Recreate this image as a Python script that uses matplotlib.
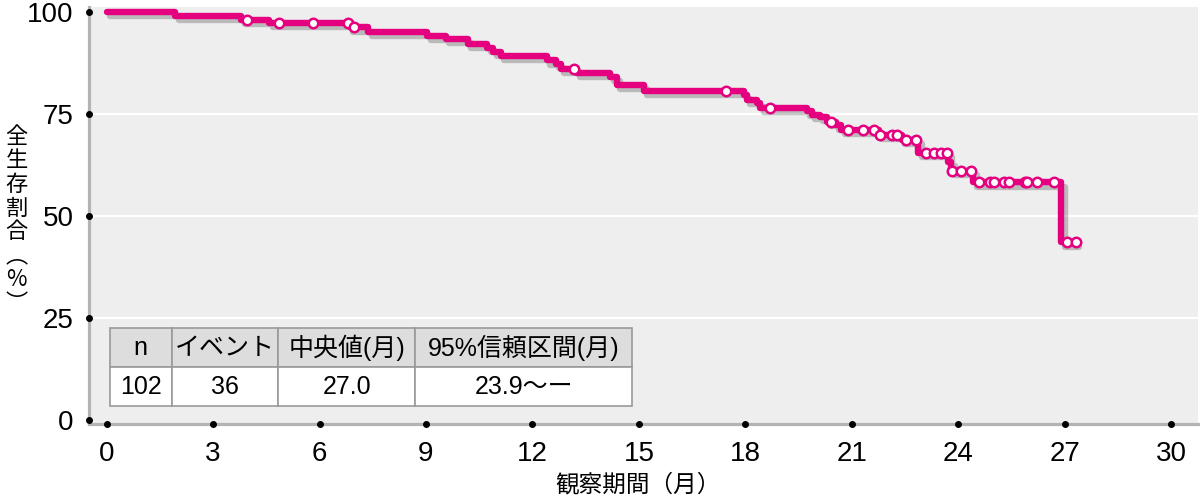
import numpy as np
import matplotlib
matplotlib.use('Agg')
import matplotlib.pyplot as plt
import matplotlib.patheffects as pe

# Kaplan-Meier steps (months, % alive after the step)
step_months = [0, 1.94, 3.79, 4.59, 6.85, 7.37, 9.03, 9.55, 10.17, 10.73,
               10.9, 11.1, 12.41, 12.65, 12.79, 13.25, 14.19, 14.38, 15.13, 17.95,
               18.04, 18.32, 18.42, 19.73, 19.87, 20.1, 20.3, 20.55, 20.7, 21.75,
               22.4, 22.87, 23.72, 23.8, 24.42, 26.9]
step_surv = [100, 99.0, 98.0, 97.3, 96.2, 95.1, 94.1, 93.3, 92.2, 91.1,
             90.2, 89.2, 88.1, 87.2, 86.0, 85.1, 84.0, 82.1, 80.7, 79.7,
             78.5, 77.6, 76.5, 75.6, 74.8, 74.2, 73.1, 72.2, 71.0, 69.8,
             68.7, 65.4, 63.2, 61.0, 58.2, 43.5]

# censored cases (months)
censor_months = [3.97, 4.85, 5.82, 6.79, 6.96, 13.16, 17.45, 18.7, 20.41, 20.89,
                 21.3, 21.63, 21.79, 22.14, 22.26, 22.52, 22.8, 23.08, 23.32, 23.51,
                 23.69, 23.83, 24.07, 24.35, 24.59, 24.89, 25.0, 25.28, 25.43, 25.87,
                 25.92, 26.22, 26.69, 27.06, 27.31]

x_ticks = [0, 3, 6, 9, 12, 15, 18, 21, 24, 27, 30]
y_ticks = [0, 25, 50, 75, 100]

table_head = ['n', 'イベント', '中央値(月)', '95%信頼区間(月)']
table_row = ['102', '36', '27.0', '23.9〜ー']

MAGENTA = '#e4007f'
LATIN = ['Liberation Sans Narrow', 'Liberation Sans', 'Noto Sans CJK JP']
JP = ['Noto Sans CJK JP', 'DejaVu Sans']

plt.rcParams['font.family'] = LATIN


def surv_at(t):
    i = np.searchsorted(step_months, t, side='right') - 1
    return step_surv[i]


fig = plt.figure(figsize=(12, 5), dpi=100)
ax = fig.add_axes([0.074, 0.152, 0.924, 0.834])
ax.set_facecolor('#eeeeee')

ax.set_xlim(-0.5, 30.74)
ax.set_ylim(-0.98, 101.2)

for y in y_ticks[1:-1]:
    ax.axhline(y, color='white', lw=1.6, zorder=1)

shadow = [pe.SimpleLineShadow(offset=(2.5, -3), shadow_color='#444444', alpha=0.3),
          pe.Normal()]

xs = step_months + [max(censor_months)]
ys = step_surv + [step_surv[-1]]
ax.step(xs, ys, where='post', color=MAGENTA, lw=4.6, solid_capstyle='round',
        path_effects=shadow, zorder=3)

cy = [surv_at(t) for t in censor_months]
ax.plot(censor_months, cy, 'o', ms=6.8, mfc='white', mec=MAGENTA, mew=1.8,
        ls='none', zorder=4)

for side in ['top', 'right']:
    ax.spines[side].set_visible(False)
for side in ['left', 'bottom']:
    ax.spines[side].set_color('#b3b3b3')
    ax.spines[side].set_linewidth(2.3)

ax.set_xticks(x_ticks)
ax.set_yticks(y_ticks)
ax.tick_params(length=0, labelsize=20)
ax.tick_params(axis='x', pad=12)
ax.tick_params(axis='y', pad=11)

# black dots sitting on the axis lines at each tick
ax.plot(x_ticks, [0] * len(x_ticks), 'o', color='black', ms=4,
        transform=ax.get_xaxis_transform(), clip_on=False, zorder=6)
ax.plot([0] * len(y_ticks), y_ticks, 'o', color='black', ms=4,
        transform=ax.get_yaxis_transform(), clip_on=False, zorder=6)

fig.text(0.532, 0.03, '観察期間（月）', family=JP, fontsize=17,
         ha='center', va='center')
fig.text(0.014, 0.56, '全\n生\n存\n割\n合\n︵\n%\n︶', family=JP, fontsize=16,
         ha='center', va='center', linespacing=1.04)

widths = [62.3, 106.6, 137.4, 216.6]
widths = [w / sum(widths) * 0.471 for w in widths]
tbl = ax.table(cellText=[table_row], colLabels=table_head, colWidths=widths,
               cellLoc='center', bbox=[0.0187, 0.043, 0.471, 0.187], zorder=7)
tbl.auto_set_font_size(False)
for (r, c), cell in tbl.get_celld().items():
    cell.set_edgecolor('#999999')
    cell.set_linewidth(1.2)
    cell.set_facecolor('#dddddd' if r == 0 else 'white')
    cell.get_text().set_fontsize(18)
    cell.get_text().set_fontfamily(LATIN)

fig.savefig('out.png', dpi=100)
